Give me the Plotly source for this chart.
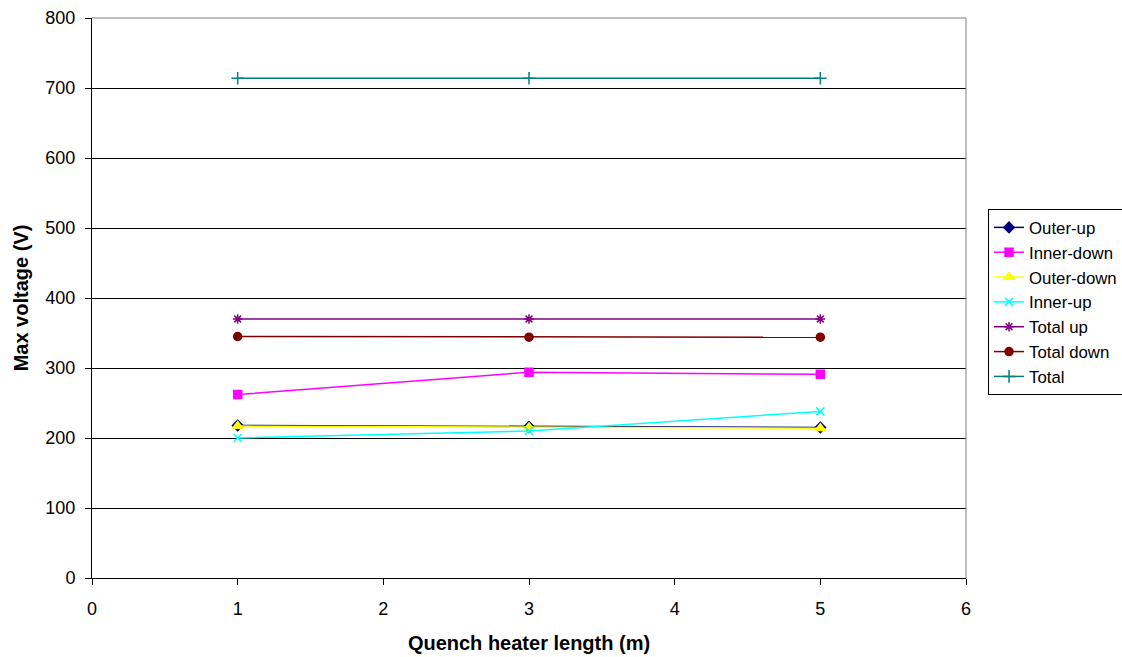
import plotly.graph_objects as go

x_vals = [1, 3, 5]
outer_up = [218, 216, 215]
inner_down = [262, 294, 291]
outer_down = [217, 215, 214]
inner_up = [200, 210, 238]
total_up = [370, 370, 370]
total_down = [345, 344, 344]
total = [714, 714, 714]

series = [
    ("Outer-up", outer_up, "#000080", "diamond", 8),
    ("Inner-down", inner_down, "#FF00FF", "square", 8),
    ("Outer-down", outer_down, "#FFFF00", "triangle-up", 9),
    ("Inner-up", inner_up, "#00FFFF", "x-thin-open", 8),
    ("Total up", total_up, "#800080", "asterisk-open", 8),
    ("Total down", total_down, "#800000", "circle", 8),
    ("Total", total, "#008080", "cross-thin-open", 9),
]

fig = go.Figure()
for i, (name, vals, col, sym, sz) in enumerate(series):
    fig.add_trace(go.Scatter(
        x=x_vals, y=vals, name=name, mode="lines+markers",
        line=dict(color=col, width=1.5),
        marker=dict(symbol=sym, size=sz, color=col, line=dict(color=col, width=1.5)),
    ))

fig.update_layout(
    width=1122, height=657,
    margin=dict(l=92, r=156, t=18, b=79, autoexpand=False),
    paper_bgcolor="white", plot_bgcolor="white",
    font=dict(family="Liberation Sans, Arial, sans-serif", size=18, color="black"),
    showlegend=True,
    legend=dict(
        x=1.0252, y=0.659, xanchor="left", yanchor="top",
        bordercolor="black", borderwidth=1, bgcolor="white",
        font=dict(size=16.8), itemwidth=30, tracegroupgap=0,
    ),
    xaxis=dict(
        range=[0, 6], tickvals=[0, 1, 2, 3, 4, 5, 6],
        showgrid=False, zeroline=False, automargin=False,
        showline=True, linecolor="black", linewidth=1,
        ticks="outside", ticklen=6, tickcolor="black",
        tickfont=dict(size=18), ticklabelstandoff=8,
        title=dict(text="<b>Quench heater length (m)</b>", font=dict(size=20), standoff=18),
    ),
    yaxis=dict(
        range=[0, 800], tickvals=list(range(0, 801, 100)),
        showgrid=True, gridcolor="black", gridwidth=1, zeroline=False, automargin=False,
        showline=True, linecolor="black", linewidth=1,
        ticks="outside", ticklen=6, tickcolor="black",
        tickfont=dict(size=18), ticklabelstandoff=6,
        title=dict(text="<b>Max voltage (V)</b>", font=dict(size=20), standoff=11),
    ),
)

# gray plot-area border on top and right
fig.add_shape(type="line", xref="paper", yref="paper", x0=1, x1=1, y0=0, y1=1,
              line=dict(color="#808080", width=1))
fig.add_shape(type="line", xref="paper", yref="paper", x0=0, x1=1, y0=1, y1=1,
              line=dict(color="#808080", width=1))

fig.write_html("out.html", config={"displayModeBar": False},
               post_script="document.body.style.margin='0';")
